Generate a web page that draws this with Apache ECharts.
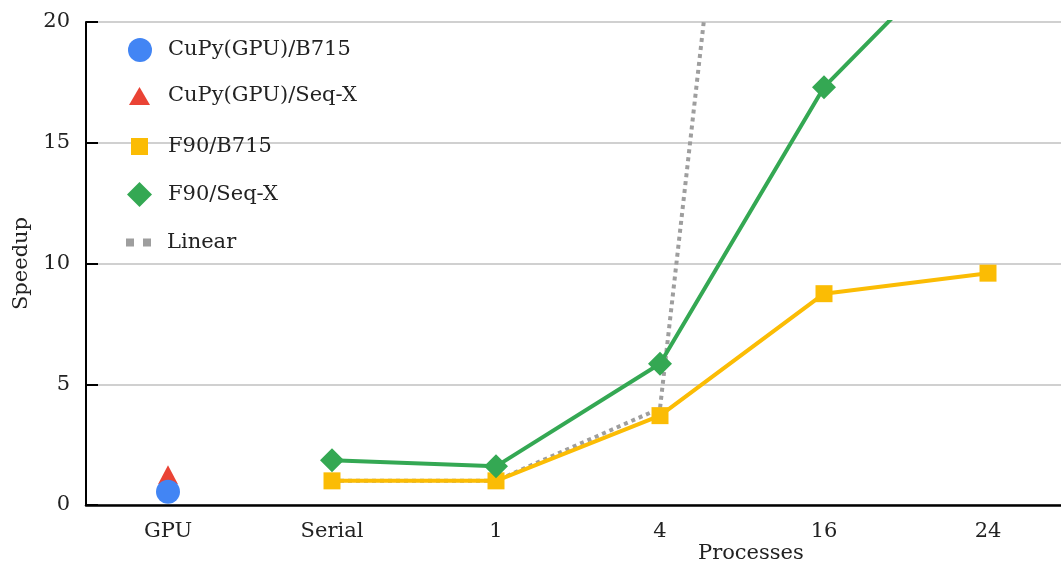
<!DOCTYPE html>
<html>
<head>
<meta charset="utf-8">
<script src="https://cdn.jsdelivr.net/npm/echarts@6/dist/echarts.min.js"></script>
<style>
html, body { margin: 0; padding: 0; background: #fff; }
#chart { width: 1061px; height: 568px; }
</style>
</head>
<body>
<div id="chart"></div>
<script>
// Speedup by configuration
const categories = ['GPU', 'Serial', '1', '4', '16', '24'];
const cupyB715 = [0.55, '-', '-', '-', '-', '-'];
const cupySeqX = [1.25, '-', '-', '-', '-', '-'];
const f90B715  = ['-', 1.0, 1.0, 3.7, 8.75, 9.6];
const f90SeqX  = ['-', 1.85, 1.6, 5.85, 17.3, 24.2];
const linear   = ['-', 1, 1, 4, 64, 96];
const yTicks   = [0, 5, 10, 15, 20];

const FONT = 'DejaVu Serif';
const TEXT = '#222';
const LINE_H = 24;

const chart = echarts.init(document.getElementById('chart'));

// one legend per entry so each marker keeps its own size and row
function legendFor(name, icon, w, h, left, centerY, padLeft) {
  return {
    data: [{ name: name, icon: icon }],
    orient: 'vertical',
    left: left,
    top: centerY - Math.max(h, LINE_H) / 2,
    padding: 0,
    itemWidth: w,
    itemHeight: h,
    selectedMode: false,
    itemStyle: { borderWidth: 0 },
    textStyle: {
      fontFamily: FONT, fontSize: 21, color: TEXT,
      lineHeight: LINE_H, padding: [0, 0, 0, padLeft]
    }
  };
}

const option = {
  backgroundColor: '#fff',
  animation: false,
  grid: { left: 86, right: -9, top: 22, bottom: 63, outerBoundsMode: 'none' },
  legend: [
    legendFor('CuPy(GPU)/B715', 'circle', 24, 24, 128, 50, 11),
    legendFor('CuPy(GPU)/Seq-X', 'triangle', 21, 18, 129, 96, 13),
    legendFor('F90/B715', 'rect', 17, 17, 131, 146.5, 15),
    legendFor('F90/Seq-X', 'diamond', 25, 25, 127, 194.5, 11),
    legendFor('Linear', 'path://M0,0h8v8h-8zM17,0h8v8h-8z', 25, 8, 126, 242.5, 11)
  ],
  xAxis: {
    type: 'category',
    data: categories,
    boundaryGap: true,
    axisLine: { lineStyle: { color: '#000', width: 2.5 } },
    axisTick: { alignWithLabel: true, inside: true, length: 12, lineStyle: { color: '#000', width: 2 } },
    axisLabel: { fontFamily: FONT, fontSize: 21, color: TEXT, margin: 16 },
    splitLine: { show: false }
  },
  yAxis: {
    type: 'value',
    min: 0,
    max: 20,
    interval: 5,
    name: 'Speedup',
    nameLocation: 'middle',
    nameRotate: 90,
    nameGap: 54,
    nameTextStyle: { fontFamily: FONT, fontSize: 21, color: TEXT },
    axisLine: { show: true, lineStyle: { color: '#000', width: 2 } },
    axisTick: { show: true, inside: true, length: 12, lineStyle: { color: '#000', width: 2 } },
    axisLabel: {
      fontFamily: FONT, fontSize: 21, color: TEXT, margin: 16,
      formatter: v => (yTicks.indexOf(v) >= 0 ? String(v) : '')
    },
    splitLine: { show: true, lineStyle: { color: '#d0d0d0', width: 2 } }
  },
  graphic: [{
    type: 'text',
    left: 698,
    top: 543,
    style: { text: 'Processes', font: '21px "DejaVu Serif"', fill: TEXT }
  }],
  series: [
    {
      name: 'Linear', type: 'line', data: linear,
      showSymbol: false, symbol: 'none', z: 2,
      color: '#9e9e9e',
      lineStyle: { color: '#9e9e9e', width: 4, type: [4, 4] }
    },
    {
      name: 'F90/B715', type: 'line', data: f90B715,
      symbol: 'rect', symbolSize: 17, z: 3,
      color: '#fbbc04',
      itemStyle: { color: '#fbbc04', borderWidth: 0 },
      lineStyle: { color: '#fbbc04', width: 4 }
    },
    {
      name: 'F90/Seq-X', type: 'line', data: f90SeqX,
      symbol: 'diamond', symbolSize: 24, z: 4,
      color: '#34a853',
      itemStyle: { color: '#34a853', borderWidth: 0 },
      lineStyle: { color: '#34a853', width: 4 }
    },
    {
      name: 'CuPy(GPU)/Seq-X', type: 'line', data: cupySeqX,
      symbol: 'triangle', symbolSize: [20, 19], z: 5,
      color: '#ea4335',
      itemStyle: { color: '#ea4335', borderWidth: 0 }
    },
    {
      name: 'CuPy(GPU)/B715', type: 'line', data: cupyB715,
      symbol: 'circle', symbolSize: 24, z: 6,
      color: '#4285f4',
      itemStyle: { color: '#4285f4', borderWidth: 0 }
    }
  ]
};

chart.setOption(option);
</script>
</body>
</html>
